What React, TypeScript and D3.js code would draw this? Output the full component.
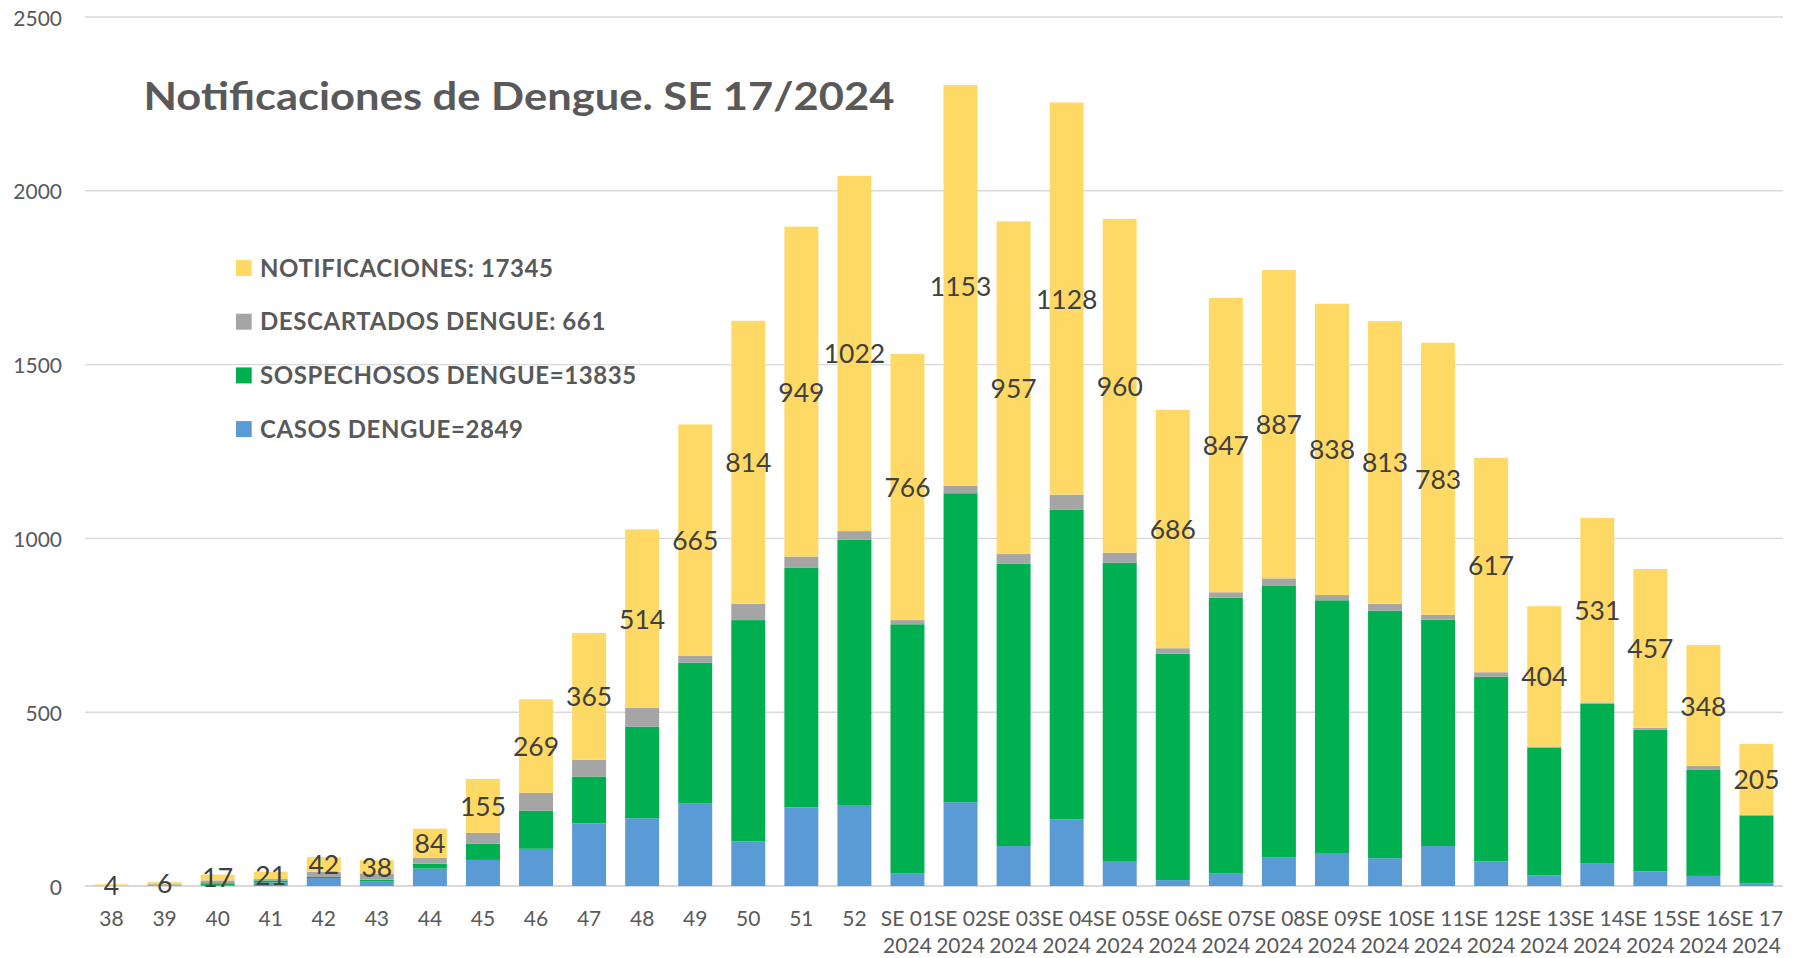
import * as d3 from "d3";

const WIDTH = 1797;
const HEIGHT = 958;
const MARGIN = { top: 17, right: 14, bottom: 72, left: 85 };

const WEEKS = [
  "38", "39", "40", "41", "42", "43", "44", "45", "46", "47", "48", "49", "50", "51", "52",
  "SE 01 2024", "SE 02 2024", "SE 03 2024", "SE 04 2024", "SE 05 2024", "SE 06 2024",
  "SE 07 2024", "SE 08 2024", "SE 09 2024", "SE 10 2024", "SE 11 2024", "SE 12 2024",
  "SE 13 2024", "SE 14 2024", "SE 15 2024", "SE 16 2024", "SE 17 2024",
];

// bottom -> top of each stack
const CASOS = [
  0, 1, 3, 10, 23, 14, 50, 75, 107, 180, 195, 237, 128, 226, 233,
  37, 241, 115, 192, 72, 17, 37, 83, 95, 80, 115, 71, 31, 66, 42, 29, 7,
];
const SOSPECHOSOS = [
  0, 0, 5, 6, 3, 4, 14, 47, 110, 135, 263, 405, 637, 689, 763,
  716, 889, 812, 890, 858, 651, 792, 780, 727, 712, 651, 531, 367, 458, 408, 305, 196,
];
const DESCARTADOS = [
  1, 4, 8, 4, 15, 18, 17, 31, 51, 48, 54, 21, 47, 33, 25,
  12, 21, 28, 44, 29, 16, 16, 22, 15, 20, 14, 13, 3, 4, 5, 11, 1,
];
const NOTIFICACIONES = [
  4, 6, 17, 21, 42, 38, 84, 155, 269, 365, 514, 665, 814, 949, 1022,
  766, 1153, 957, 1128, 960, 686, 847, 887, 838, 813, 783, 617, 404, 531, 457, 348, 205,
];

const Y_TICKS = [0, 500, 1000, 1500, 2000, 2500];

const TITLE = "Notificaciones de Dengue. SE 17/2024";
const LEGEND = [
  { key: "notif", label: "NOTIFICACIONES: 17345" },
  { key: "desc", label: "DESCARTADOS DENGUE: 661" },
  { key: "sosp", label: "SOSPECHOSOS DENGUE=13835" },
  { key: "casos", label: "CASOS DENGUE=2849" },
];

const COLORS: Record<string, string> = {
  casos: "#5b9bd5",
  sosp: "#00b050",
  desc: "#a5a5a5",
  notif: "#ffd966",
};

const FONT = "Lato, 'Open Sans', sans-serif";

type Row = { week: string; casos: number; sosp: number; desc: number; notif: number };

const rows: Row[] = WEEKS.map((w, i) => ({
  week: w,
  casos: CASOS[i],
  sosp: SOSPECHOSOS[i],
  desc: DESCARTADOS[i],
  notif: NOTIFICACIONES[i],
}));

const KEYS = ["casos", "sosp", "desc", "notif"];

export default function App() {
  const boundsWidth = WIDTH - MARGIN.left - MARGIN.right;
  const boundsHeight = HEIGHT - MARGIN.top - MARGIN.bottom;

  const xScale = d3
    .scaleBand<string>()
    .domain(WEEKS)
    .range([0, boundsWidth])
    .paddingInner(0.36)
    .paddingOuter(0.18);

  const yScale = d3.scaleLinear().domain([0, 2500]).range([boundsHeight, 0]);

  const series = d3.stack<Row>().keys(KEYS)(rows);
  const notifSeries = series[3];

  return (
    <svg
      width={WIDTH}
      height={HEIGHT}
      style={{ position: "absolute", left: 0, top: 0, background: "#fff" }}
      fontFamily={FONT}
    >
      <g transform={`translate(${MARGIN.left},${MARGIN.top})`}>
        {/* grid */}
        {Y_TICKS.map((t) => (
          <g key={t}>
            <line
              x1={0}
              x2={boundsWidth}
              y1={yScale(t)}
              y2={yScale(t)}
              stroke="#d9d9d9"
              strokeWidth={t === 0 ? 2 : 1.4}
            />
            <text
              x={-23}
              y={yScale(t)}
              textAnchor="end"
              dominantBaseline="central"
              fontSize={21}
              fill="#595959"
            >
              {t}
            </text>
          </g>
        ))}

        {/* bars */}
        {series.map((s) => (
          <g key={s.key} fill={COLORS[s.key]}>
            {s.map((d, i) => (
              <rect
                key={i}
                x={xScale(d.data.week)}
                y={yScale(d[1])}
                width={xScale.bandwidth()}
                height={Math.max(0, yScale(d[0]) - yScale(d[1]))}
              />
            ))}
          </g>
        ))}

        {/* data labels, centred in the yellow segment */}
        {notifSeries.map((d, i) => (
          <text
            key={i}
            x={(xScale(d.data.week) || 0) + xScale.bandwidth() / 2}
            y={(yScale(d[0]) + yScale(d[1])) / 2}
            textAnchor="middle"
            dominantBaseline="central"
            fontSize={26.5}
            fill="#404040"
          >
            {d.data.notif}
          </text>
        ))}

        {/* x axis labels */}
        {WEEKS.map((w) => {
          const cx = (xScale(w) || 0) + xScale.bandwidth() / 2;
          const parts = w.length > 3 ? [w.slice(0, w.lastIndexOf(" ")), w.slice(w.lastIndexOf(" ") + 1)] : [w];
          return (
            <text key={w} textAnchor="middle" fontSize={21} fill="#595959">
              {parts.map((p, j) => (
                <tspan key={j} x={cx} y={boundsHeight + 40 + j * 26.5}>
                  {p}
                </tspan>
              ))}
            </text>
          );
        })}
      </g>

      {/* title */}
      <text
        x={143.5}
        y={110}
        fontSize={39}
        fontWeight="bold"
        fill="#595959"
        textLength={751}
        lengthAdjust="spacingAndGlyphs"
      >
        {TITLE}
      </text>

      {/* legend */}
      {LEGEND.map((l, i) => {
        const top = 260 + i * 53.7;
        return (
          <g key={l.key}>
            <rect x={236} y={top} width={15.7} height={16} fill={COLORS[l.key]} />
            <text
              x={260}
              y={top + 16.5}
              fontSize={24}
              fontWeight="bold"
              letterSpacing={0.6}
              fill="#595959"
            >
              {l.label}
            </text>
          </g>
        );
      })}
    </svg>
  );
}
